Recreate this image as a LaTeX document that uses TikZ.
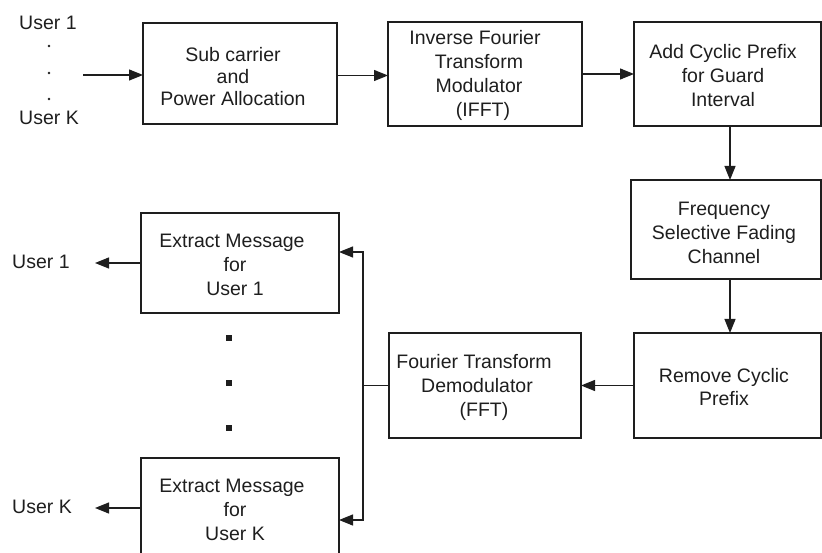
\documentclass[tikz,border=0pt]{standalone}
\usepackage{fontspec}
\setmainfont{Liberation Sans}
\usetikzlibrary{arrows.meta}
\definecolor{ink}{HTML}{1E1E1E}
\tikzset{
  blk/.style={draw=ink, line width=1.2pt, inner sep=0pt, outer sep=0pt},
  txt/.style={align=center, inner sep=0pt, text=ink, font=\fontsize{19.5}{24}\selectfont},
  lbl/.style={text=ink, inner sep=0pt, font=\fontsize{19.5}{24}\selectfont},
  arr/.style={draw=ink, line width=1.2pt, -{Triangle[length=14pt,width=11pt]}},
  wire/.style={draw=ink, line width=1.2pt},
  sq/.style={fill=ink, inner sep=0pt, minimum size=6pt},
  pt/.style={circle, fill=ink, inner sep=0pt, minimum size=2.6pt}
}
\begin{document}
\begin{tikzpicture}[x=1pt, y=-1pt]
\useasboundingbox (0,0) rectangle (822,553);

% transmitter chain
\node[blk, minimum width=194, minimum height=101] (alloc) at (240,73.5) {};
\node[blk, minimum width=194, minimum height=104] (ifft) at (485,74) {};
\node[blk, minimum width=187, minimum height=104] (addcp) at (727.5,74) {};
\node[blk, minimum width=190, minimum height=99] (chan) at (726,229.5) {};

% receiver chain
\node[blk, minimum width=187, minimum height=105] (remcp) at (727.5,385.5) {};
\node[blk, minimum width=192, minimum height=105] (fft) at (485,385.5) {};
\node[blk, minimum width=198, minimum height=100] (ex1) at (240,263) {};
\node[blk, minimum width=198, minimum height=100] (exK) at (240,508) {};

% block captions
\node[txt, font=\fontsize{19.5}{22}\selectfont] (alloc-t) at ([shift={(-7,3.5)}]alloc.center)
  {Sub carrier\\and\\Power Allocation};
\node[txt] (ifft-t) at ([shift={(-6,1.5)}]ifft.center)
  {Inverse Fourier\hspace*{8pt}\\Transform\\Modulator\\\hspace*{8pt}(IFFT)};
\node[txt] (addcp-t) at ([shift={(-4.5,2)}]addcp.center)
  {Add Cyclic Prefix\\for Guard\\Interval};
\node[txt] (chan-t) at ([shift={(-2,3)}]chan.center)
  {Frequency\\Selective Fading\\Channel};
\node[txt, font=\fontsize{19.5}{23}\selectfont] (remcp-t) at ([shift={(-3.5,2)}]remcp.center)
  {Remove Cyclic\\Prefix};
\node[txt] (fft-t) at ([shift={(-8,2)}]fft.center)
  {Fourier Transform\hspace*{6pt}\\Demodulator\\\hspace*{14pt}(FFT)};
\node[txt] (ex1-t) at ([shift={(-5,2)}]ex1.center)
  {Extract Message\hspace*{6pt}\\for\\User 1};
\node[txt] (exK-t) at ([shift={(-5,2)}]exK.center)
  {Extract Message\hspace*{6pt}\\for\\User K};

% user labels
\node[lbl, anchor=west] (uin1) at (19,23) {User 1};
\node[pt] (d1) at (49,46) {};
\node[pt] (d2) at (49,73) {};
\node[pt] (d3) at (49,99) {};
\node[lbl, anchor=west] (uinK) at (19,118) {User K};
\node[lbl, anchor=west] (uout1) at (12,262) {User 1};
\node[lbl, anchor=west] (uoutK) at (12,507) {User K};

% ellipsis between the extract blocks
\node[sq] (s1) at (229,338) {};
\node[sq] (s2) at (229,383) {};
\node[sq] (s3) at (229,428) {};

% connectors
\coordinate (src) at (83,75);
\coordinate (bus) at (363,385.5);
\coordinate (vcol) at (730,0);
\draw[arr] (src) -- (src -| alloc.west);
\draw[arr] ([yshift=-2pt]alloc.east) -- ([yshift=-2pt]alloc.east -| ifft.west);
\draw[arr] (ifft.east) -- (addcp.west);
\draw[arr] (addcp.south -| vcol) -- (chan.north -| vcol);
\draw[arr] (chan.south -| vcol) -- (remcp.north -| vcol);
\draw[arr] (remcp) -- (fft);
\draw[wire] (fft.west) -- (bus);
\draw[arr] (bus) |- ([yshift=11pt]ex1.east);
\draw[arr] (bus) |- ([yshift=-12pt]exK.east);
\draw[arr] (ex1.west) -- ([xshift=-46pt]ex1.west);
\draw[arr] (exK.west) -- ([xshift=-46pt]exK.west);
\end{tikzpicture}
\end{document}
